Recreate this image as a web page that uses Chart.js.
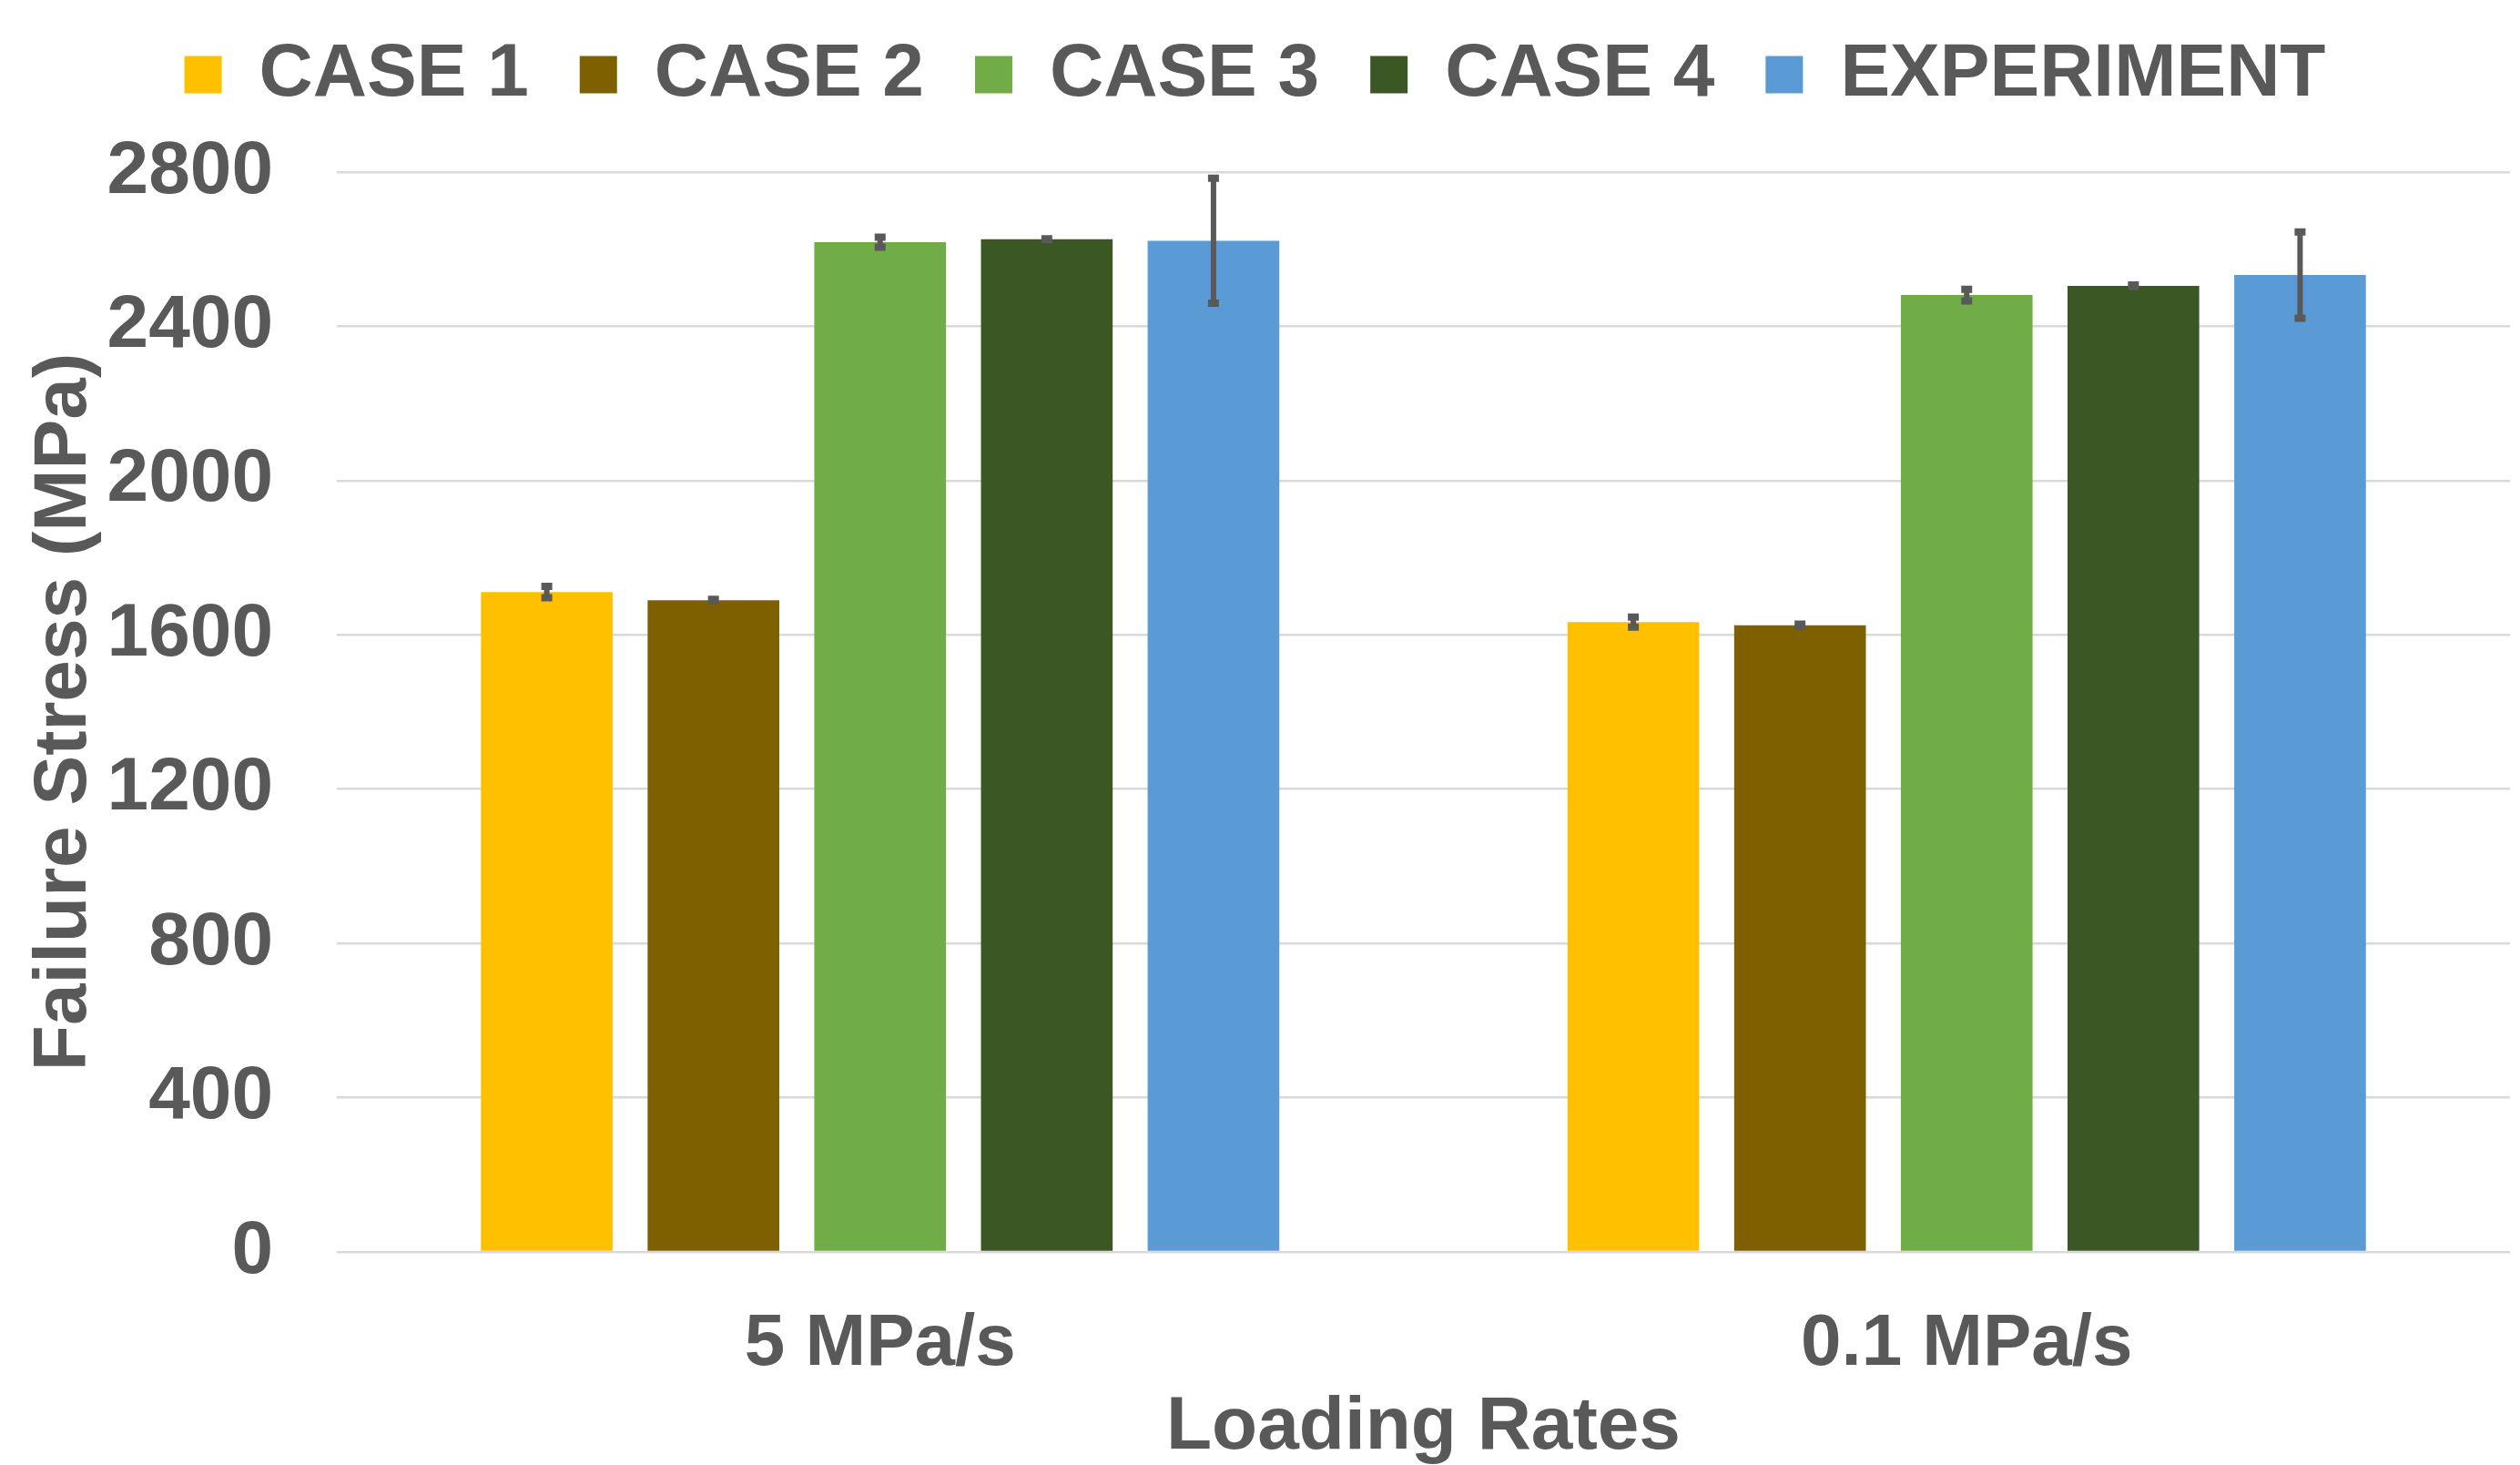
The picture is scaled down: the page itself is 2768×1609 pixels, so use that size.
<!DOCTYPE html>
<html>
<head>
<meta charset="utf-8">
<script src="https://cdn.jsdelivr.net/npm/chart.js@4.4.1/dist/chart.umd.min.js"></script>
<style>
  html, body { margin: 0; padding: 0; background: #ffffff; }
  #wrap { width: 2768px; height: 1609px; }
</style>
</head>
<body>
<div id="wrap"><canvas id="myChart"></canvas></div>
<script>
// categories and series
var labels = ['5 MPa/s', '0.1 MPa/s'];
var seriesNames = ['CASE 1', 'CASE 2', 'CASE 3', 'CASE 4', 'EXPERIMENT'];

var case1 = [1711, 1633];
var case2 = [1690, 1625];
var case3 = [2618, 2481];
var case4 = [2626, 2505];
var experiment = [2622, 2533];

// +/- error values
var case1Err = [15, 13];
var case2Err = [2, 3];
var case3Err = [13, 15];
var case4Err = [1, 2];
var experimentErr = [162, 112];

var yTicks = [0, 400, 800, 1200, 1600, 2000, 2400, 2800];

var textColor = '#595959';
var fontFamily = '"Liberation Sans", Arial, sans-serif';

// draws the error bars through the y scale
var errorBars = {
    id: 'errorBars',
    afterDatasetsDraw: function(chart) {
        var ctx = chart.ctx;
        var yScale = chart.scales.y;
        ctx.save();
        ctx.strokeStyle = '#595959';
        chart.data.datasets.forEach(function(ds, i) {
            var meta = chart.getDatasetMeta(i);
            meta.data.forEach(function(bar, j) {
                var v = ds.data[j];
                var e = ds.errors[j];
                var top = yScale.getPixelForValue(v + e);
                var bot = yScale.getPixelForValue(v - e);
                ctx.lineWidth = 6;
                ctx.beginPath();
                ctx.moveTo(bar.x, top);
                ctx.lineTo(bar.x, bot);
                ctx.stroke();
                // caps
                ctx.lineWidth = 8;
                ctx.beginPath();
                ctx.moveTo(bar.x - 6, top);
                ctx.lineTo(bar.x + 6, top);
                ctx.moveTo(bar.x - 6, bot);
                ctx.lineTo(bar.x + 6, bot);
                ctx.stroke();
            });
        });
        ctx.restore();
    }
};

// fixed legend height so the plot starts where the reference one does
var legendSpacer = {
    id: 'legendSpacer',
    beforeInit: function(chart) {
        var fit = chart.legend.fit;
        chart.legend.fit = function() {
            fit.bind(chart.legend)();
            this.height = 204;
        };
    }
};

var ctx = document.getElementById('myChart').getContext('2d');

var myChart = new Chart(ctx, {
    type: 'bar',
    data: {
        labels: labels,
        datasets: [
            { label: seriesNames[0], data: case1, errors: case1Err, backgroundColor: '#FFC000' },
            { label: seriesNames[1], data: case2, errors: case2Err, backgroundColor: '#7F6000' },
            { label: seriesNames[2], data: case3, errors: case3Err, backgroundColor: '#70AD47' },
            { label: seriesNames[3], data: case4, errors: case4Err, backgroundColor: '#3A5724' },
            { label: seriesNames[4], data: experiment, errors: experimentErr, backgroundColor: '#5B9BD5' }
        ]
    },
    options: {
        responsive: true,
        maintainAspectRatio: false,
        devicePixelRatio: 1,
        animation: false,
        categoryPercentage: 0.767,
        barPercentage: 0.79,
        layout: {
            padding: { top: -15, right: 11, left: 0, bottom: 0 }
        },
        plugins: {
            tooltip: { enabled: false },
            legend: {
                position: 'top',
                labels: {
                    boxWidth: 41,
                    boxHeight: 41,
                    padding: 56,
                    color: textColor,
                    font: { family: fontFamily, size: 82, weight: 'bold' }
                }
            }
        },
        scales: {
            x: {
                grid: { display: false },
                border: { display: false },
                ticks: {
                    color: textColor,
                    padding: 46,
                    font: { family: fontFamily, size: 80, weight: 'bold' }
                },
                title: {
                    display: true,
                    text: 'Loading Rates',
                    color: textColor,
                    padding: { top: 0, bottom: 0 },
                    font: { family: fontFamily, size: 82, weight: 'bold', lineHeight: 1 }
                },
                afterFit: function(axis) { axis.height = 234; }
            },
            y: {
                min: 0,
                max: 2800,
                afterBuildTicks: function(axis) {
                    axis.ticks = yTicks.map(function(v) { return { value: v }; });
                },
                grid: { color: '#D9D9D9', lineWidth: 2.5, drawTicks: false },
                border: { display: false },
                ticks: {
                    color: textColor,
                    padding: 70,
                    font: { family: fontFamily, size: 82, weight: 'bold' },
                    callback: function(value) { return String(value); }
                },
                title: {
                    display: true,
                    text: 'Failure Stress (MPa)',
                    color: textColor,
                    padding: { top: 30, bottom: 0 },
                    font: { family: fontFamily, size: 82, weight: 'bold', lineHeight: 1 }
                },
                afterFit: function(axis) { axis.width = 370; }
            }
        }
    },
    plugins: [errorBars, legendSpacer]
});
</script>
</body>
</html>
